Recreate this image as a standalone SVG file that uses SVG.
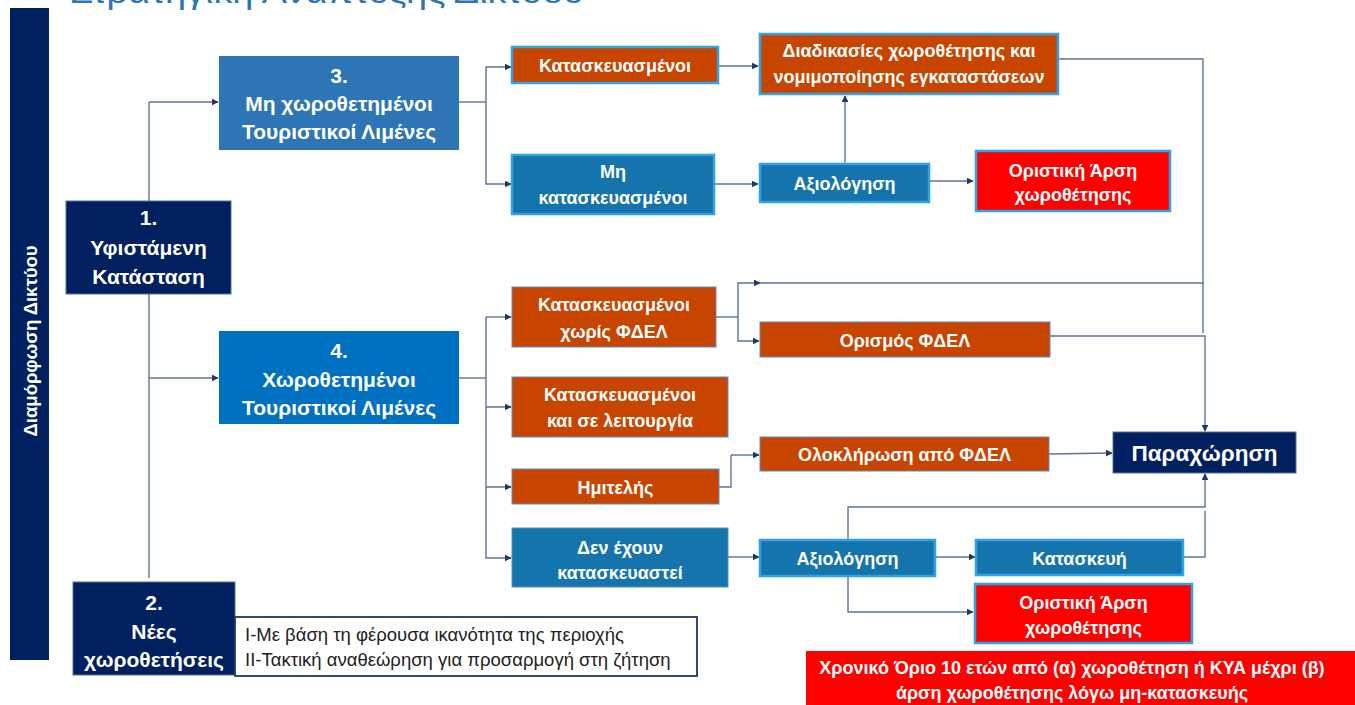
<svg xmlns="http://www.w3.org/2000/svg" width="1355" height="705" viewBox="0 0 1355 705">
<defs>
<marker id="ah" viewBox="0 0 10 10" refX="9" refY="5" markerWidth="7" markerHeight="7" markerUnits="userSpaceOnUse" orient="auto">
<path d="M0,0 L10,5 L0,10 z" fill="#1F3864"/>
</marker>
<style>
text{font-family:"Liberation Sans","Noto Sans",sans-serif;}
.w{fill:#fff;font-weight:bold;text-anchor:middle;}
.big{font-size:21px;}
.med{font-size:18px;}
.navy{fill:#002060;stroke:#5a6e9a;stroke-width:1;}
.or{fill:#C84500;stroke:#5B8BC4;stroke-width:1;}
.orb{fill:#C84500;stroke:#2EA3E6;stroke-width:2.5;}
.te{fill:#1674AD;stroke:#5B8BC4;stroke-width:1;}
.teb{fill:#1674AD;stroke:#2EA3E6;stroke-width:2.5;}
.rd{fill:#FF0000;stroke:#2EA3E6;stroke-width:2.5;}
.c{fill:none;stroke:#5E7399;stroke-width:1.4;}
.ca{fill:none;stroke:#5E7399;stroke-width:1.4;marker-end:url(#ah);}
</style>
</defs>
<rect width="1355" height="705" fill="#fff"/>
<text x="70" y="3" font-size="32" fill="#2E75B6" textLength="514" lengthAdjust="spacingAndGlyphs">Στρατηγική Ανάπτυξης Δικτύου</text>

<g id="bar">
<rect x="10" y="8" width="39" height="652" fill="#002060"/>
<text class="w" font-size="18.5" transform="translate(37,341) rotate(-90)">Διαμόρφωση Δικτύου</text>
</g>

<g id="connectors">
<path class="c" d="M149,201 V102"/>
<path class="ca" d="M149,102 H218"/>
<path class="c" d="M149,294 V578"/>
<path class="ca" d="M149,378 H218"/>
<path class="c" d="M459,102 H486"/>
<path class="ca" d="M486,102 V67 H511"/>
<path class="ca" d="M486,102 V184 H511"/>
<path class="ca" d="M718,66 H758"/>
<path class="ca" d="M714,184 H758"/>
<path class="ca" d="M845,164 V96"/>
<path class="ca" d="M929,181 H973"/>
<path class="c" d="M1058,59 H1203 V333"/>
<path class="c" d="M459,378 H486"/>
<path class="ca" d="M486,317 H511"/>
<path class="c" d="M486,378 V317"/>
<path class="ca" d="M486,378 V407 H511"/>
<path class="ca" d="M486,407 V487 H511"/>
<path class="ca" d="M486,487 V558 H511"/>
<path class="c" d="M716,317 H738"/>
<path class="ca" d="M738,317 V283 H760"/>
<path class="c" d="M760,283 H1203" stroke="#1F3864"/>
<path class="ca" d="M738,317 V341 H759"/>
<path class="ca" d="M1050,336 H1205 V431"/>
<path class="c" d="M719,487 H731 V455"/>
<path class="ca" d="M731,455 H759"/>
<path class="ca" d="M1049,454 L1112,453"/>
<path class="ca" d="M728,557 H759"/>
<path class="ca" d="M935,557 H975"/>
<path class="ca" d="M848,576 V612 H973"/>
<path class="ca" d="M848,540 V507 H1205 V474"/>
<path class="c" d="M1183,557 H1205 V511"/>
</g>

<g id="n1"><rect class="navy" x="66" y="201" width="165" height="93"/>
<text class="w big" x="148.5" y="225">1.</text><text class="w big" x="148.5" y="255">Υφιστάμενη</text><text class="w big" x="148.5" y="284">Κατάσταση</text></g>

<g id="n2"><rect class="navy" x="73" y="582" width="162" height="93"/>
<text class="w big" x="154" y="610">2.</text><text class="w big" x="154" y="639">Νέες</text><text class="w big" x="154" y="667">χωροθετήσεις</text></g>

<g id="n2text"><rect x="235" y="617" width="462" height="59" fill="#fff" stroke="#1F3864" stroke-width="1.8"/>
<text x="245" y="641" font-size="18.5" fill="#222">I-Με βάση τη φέρουσα ικανότητα της περιοχής</text>
<text x="245" y="666" font-size="18.5" fill="#222">II-Τακτική αναθεώρηση για προσαρμογή στη ζήτηση</text></g>

<g id="n3"><rect x="219" y="56" width="240" height="94" fill="#2E75B6"/>
<text class="w big" x="339" y="83">3.</text><text class="w big" x="339" y="111">Μη χωροθετημένοι</text><text class="w big" x="339" y="139">Τουριστικοί Λιμένες</text></g>

<g id="n4"><rect x="219" y="331" width="240" height="93" fill="#0070C0"/>
<text class="w big" x="339" y="358">4.</text><text class="w big" x="339" y="387">Χωροθετημένοι</text><text class="w big" x="339" y="415">Τουριστικοί Λιμένες</text></g>

<g id="kataskevasmenoi"><rect class="orb" x="512" y="47" width="206" height="36"/>
<text class="w med" x="615" y="72">Κατασκευασμένοι</text></g>

<g id="mi-kataskevasmenoi"><rect class="teb" x="512" y="155" width="202" height="59"/>
<text class="w med" x="613" y="178">Μη</text><text class="w med" x="613" y="204">κατασκευασμένοι</text></g>

<g id="diadikasies"><rect class="orb" x="760" y="34" width="298" height="60"/>
<text class="w med" x="909" y="57">Διαδικασίες χωροθέτησης και</text><text class="w med" x="909" y="83">νομιμοποίησης εγκαταστάσεων</text></g>

<g id="axiologisi1"><rect class="teb" x="760" y="164" width="169" height="38"/>
<text class="w med" x="844.5" y="190">Αξιολόγηση</text></g>

<g id="arsi1"><rect class="rd" x="976" y="151" width="194" height="60"/>
<text class="w med" x="1073" y="177">Οριστική Άρση</text><text class="w med" x="1073" y="201">χωροθέτησης</text></g>

<g id="xoris-fdel"><rect class="or" x="512" y="287" width="204" height="60"/>
<text class="w med" x="614" y="311">Κατασκευασμένοι</text><text class="w med" x="614" y="338">χωρίς ΦΔΕΛ</text></g>

<g id="orismos"><rect class="or" x="760" y="322" width="290" height="35"/>
<text class="w med" x="905" y="347">Ορισμός ΦΔΕΛ</text></g>

<g id="leitourgia"><rect class="or" x="512" y="377" width="216" height="60"/>
<text class="w med" x="620" y="401">Κατασκευασμένοι</text><text class="w med" x="620" y="427">και σε λειτουργία</text></g>

<g id="imiteleis"><rect class="or" x="512" y="469" width="207" height="35"/>
<text class="w med" x="615.5" y="494">Ημιτελής</text></g>

<g id="oloklirosi"><rect class="or" x="760" y="437" width="289" height="34"/>
<text class="w med" x="904.5" y="461">Ολοκλήρωση από ΦΔΕΛ</text></g>

<g id="paraxorisi"><rect class="navy" x="1113" y="432" width="183" height="41"/>
<text class="w" font-size="22.5" x="1204.5" y="461">Παραχώρηση</text></g>

<g id="den-exoun"><rect class="te" x="512" y="528" width="216" height="59"/>
<text class="w med" x="620" y="554">Δεν έχουν</text><text class="w med" x="620" y="579">κατασκευαστεί</text></g>

<g id="axiologisi2"><rect class="teb" x="760" y="540" width="175" height="36"/>
<text class="w med" x="847.5" y="565">Αξιολόγηση</text></g>

<g id="kataskevi"><rect class="teb" x="976" y="540" width="207" height="35"/>
<text class="w med" x="1079.5" y="565">Κατασκευή</text></g>

<g id="arsi2"><rect class="rd" x="975" y="584" width="217" height="59"/>
<text class="w med" x="1083.5" y="609">Οριστική Άρση</text><text class="w med" x="1083.5" y="634">χωροθέτησης</text></g>

<g id="xroniko"><rect x="806" y="651" width="549" height="54" fill="#FF0000"/>
<text class="w med" x="1072" y="674">Χρονικό Όριο 10 ετών από (α) χωροθέτηση ή ΚΥΑ μέχρι (β)</text>
<text class="w med" x="1072" y="699">άρση χωροθέτησης λόγω μη-κατασκευής</text></g>
</svg>
